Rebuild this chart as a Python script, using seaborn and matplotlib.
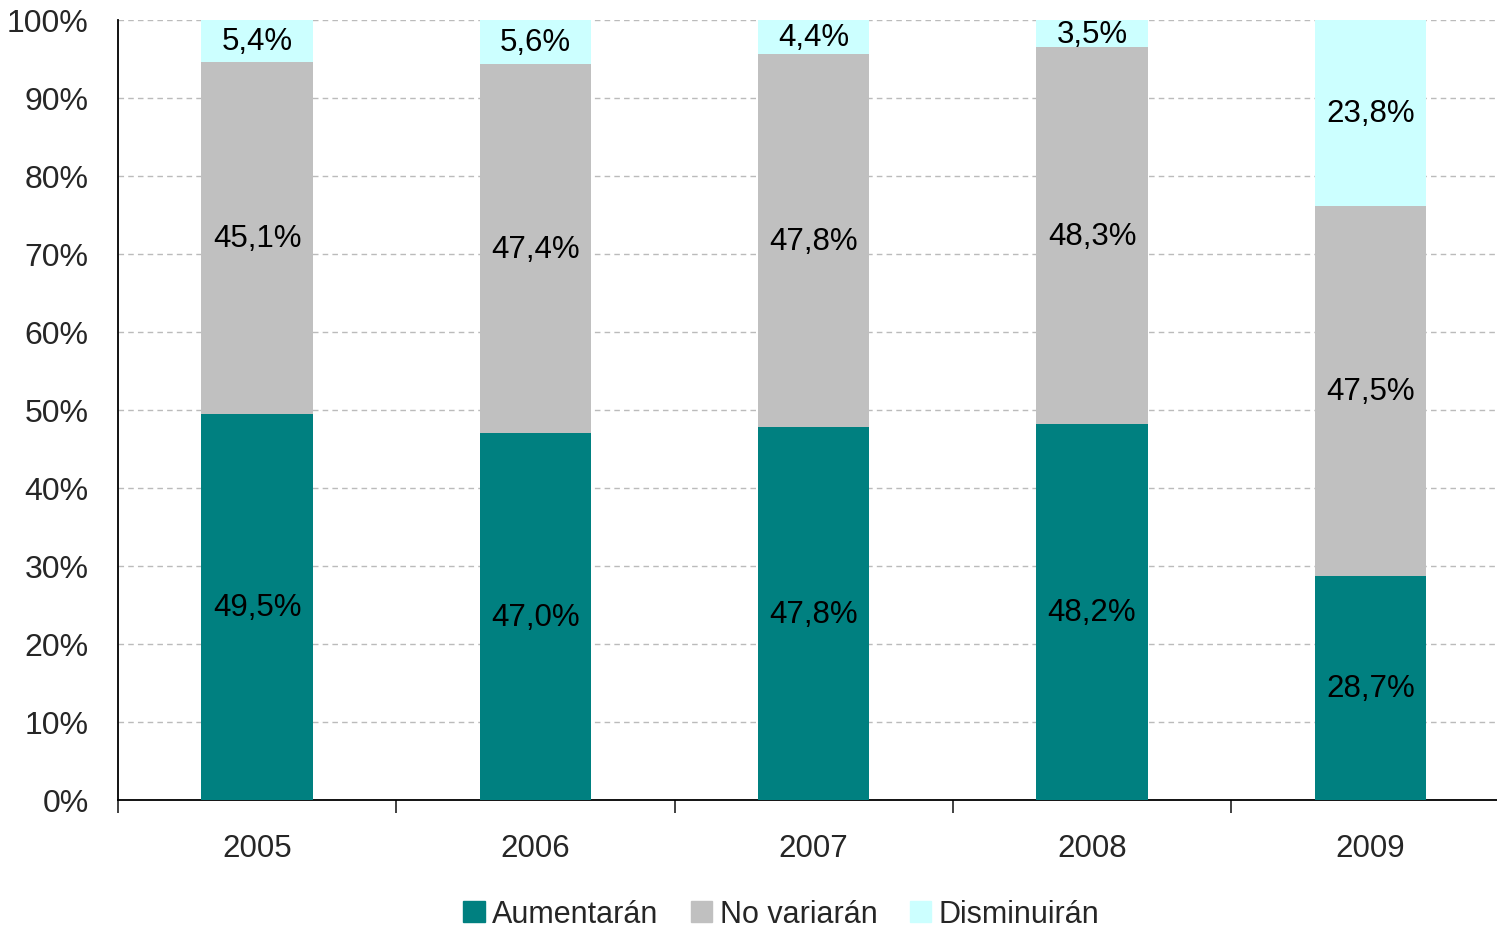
import pandas as pd
import matplotlib
matplotlib.use("Agg")
import matplotlib.pyplot as plt
import matplotlib.patches as mpatches
import seaborn as sns

# datos (porcentajes)
years = ["2005", "2006", "2007", "2008", "2009"]
aumentaran = [49.5, 47.0, 47.8, 48.2, 28.7]
no_variaran = [45.1, 47.4, 47.8, 48.3, 47.5]
disminuiran = [5.4, 5.6, 4.4, 3.5, 23.8]

series_names = ["Aumentarán", "No variarán", "Disminuirán"]
colors = ["#008080", "#C0C0C0", "#CCFFFF"]

df = pd.DataFrame({"year": years, "aum": aumentaran, "nov": no_variaran, "dis": disminuiran})
df["c1"] = df["aum"]
df["c2"] = df["aum"] + df["nov"]
df["c3"] = df["c2"] + df["dis"]

sns.set_style("white")
plt.rcParams["font.family"] = ["Liberation Sans", "DejaVu Sans"]

fig = plt.figure(figsize=(14.97, 9.29), dpi=100)
ax = fig.add_axes([118 / 1497, 128 / 929, 1 - 118 / 1497, 780 / 929])

# barras apiladas: se dibujan los acumulados de mayor a menor
for col, color in zip(["c3", "c2", "c1"], colors[::-1]):
    sns.barplot(data=df, x="year", y=col, order=years, color=color,
                width=0.4, saturation=1, edgecolor="none", ax=ax, zorder=3)

# etiquetas de cada segmento
for i, row in df.iterrows():
    bottoms = [0, row["c1"], row["c2"]]
    for b, v in zip(bottoms, [row["aum"], row["nov"], row["dis"]]):
        ax.text(i, b + v / 2, f"{v:.1f}%".replace(".", ","), ha="center", va="center",
                fontsize=22.5, color="black", zorder=4)

ax.set_ylim(0, 100)
ax.set_xlim(-0.5 + 0.008, -0.5 + 0.008 + 1379 / 278.75)
ax.set_yticks(range(0, 101, 10))
ax.set_yticklabels([f"{v}%" for v in range(0, 101, 10)], fontsize=23)
ax.set_xticks(range(len(years)))
ax.set_xticklabels(years, fontsize=22.5)
ax.set_xlabel("")
ax.set_ylabel("")

# marcas del eje x en los límites de categoría
ax.set_xticks([i - 0.5 for i in range(len(years))], minor=True)
ax.tick_params(axis="x", which="major", bottom=True, length=0, pad=24)
ax.tick_params(axis="x", which="minor", bottom=True, length=9, width=1.3,
               direction="out", color="#333333")
ax.tick_params(axis="y", length=0, pad=21)

ax.yaxis.grid(True, linestyle=(0, (4, 3)), color="#BBBBBB", linewidth=1, zorder=0)
ax.set_axisbelow(True)
for s in ["top", "right"]:
    ax.spines[s].set_visible(False)
for s in ["left", "bottom"]:
    ax.spines[s].set_color("black")
    ax.spines[s].set_linewidth(1.3)

handles = [mpatches.Patch(color=c, label=n) for c, n in zip(colors, series_names)]
fig.legend(handles=handles, loc="center", bbox_to_anchor=(0.522, 0.015), ncol=3,
           frameon=False, fontsize=22, handlelength=0.7, handleheight=0.7,
           handletextpad=0.25, columnspacing=1.05)

fig.savefig("out.png", dpi=100)
